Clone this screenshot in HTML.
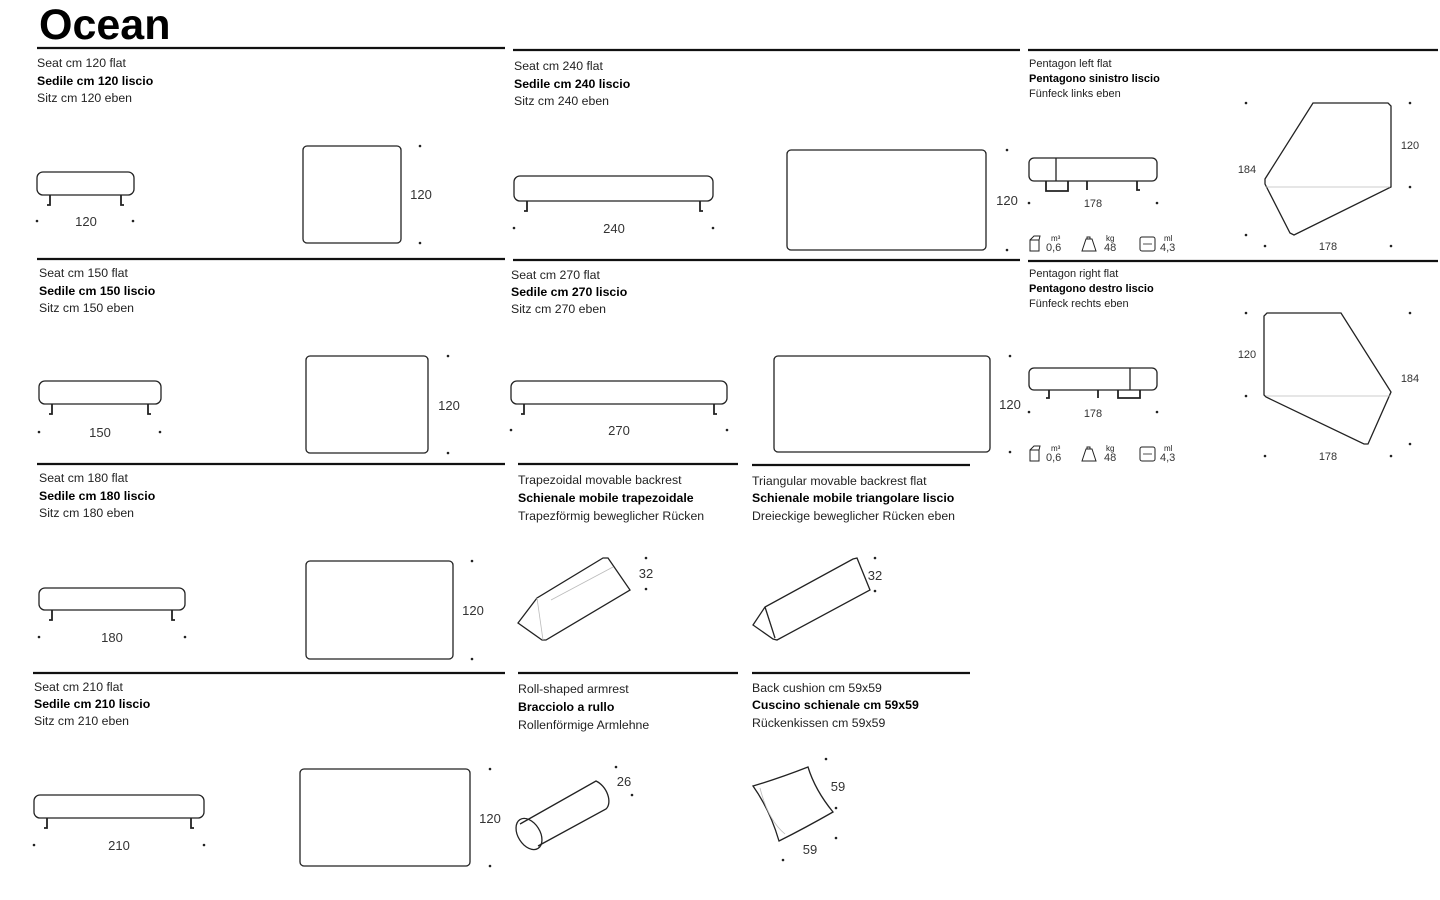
<!DOCTYPE html>
<html><head><meta charset="utf-8">
<style>
html,body{margin:0;padding:0;background:#fff;width:1440px;height:900px;overflow:hidden}
svg{display:block}
text{font-family:"Liberation Sans Narrow","Liberation Sans",sans-serif;fill:#222}
.t{font-size:12.3px}
.b{font-size:12.3px;font-weight:bold;fill:#000}
.s{font-size:11px}
.sb{font-size:11px;font-weight:bold;fill:#000}
.n{font-size:13px;fill:#333}
.ns{font-size:11px;fill:#333}
.ln{stroke:#111;stroke-width:2.2}
.o{fill:none;stroke:#222;stroke-width:1.3}
.g{fill:none;stroke:#bbb;stroke-width:0.8}
</style></head><body>
<svg id="s" width="1440" height="900" viewBox="0 0 1440 900" xmlns="http://www.w3.org/2000/svg">
<text x="39" y="39" style="font-family:'Liberation Sans',sans-serif;font-size:43px;font-weight:bold;fill:#000">Ocean</text>

<line class="ln" x1="37" y1="48" x2="505" y2="48"/>
<line class="ln" x1="513" y1="50" x2="1020" y2="50"/>
<line class="ln" x1="1028" y1="50" x2="1438" y2="50"/>
<line class="ln" x1="37" y1="259" x2="505" y2="259"/>
<line class="ln" x1="513" y1="260" x2="1020" y2="260"/>
<line class="ln" x1="1028" y1="261" x2="1438" y2="261"/>
<line class="ln" x1="37" y1="464" x2="505" y2="464"/>
<line class="ln" x1="518" y1="464" x2="738" y2="464"/>
<line class="ln" x1="752" y1="465" x2="970" y2="465"/>
<line class="ln" x1="33" y1="673" x2="505" y2="673"/>
<line class="ln" x1="518" y1="673" x2="738" y2="673"/>
<line class="ln" x1="752" y1="673" x2="970" y2="673"/>

<text class="t" x="37" y="67">Seat cm 120 flat</text>
<text class="b" x="37" y="85">Sedile cm 120 liscio</text>
<text class="t" x="37" y="102">Sitz cm 120 eben</text>
<text class="n" x="86" y="226" text-anchor="middle">120</text>
<text class="n" x="421" y="199" text-anchor="middle">120</text>

<text class="t" x="39" y="277">Seat cm 150 flat</text>
<text class="b" x="39" y="295">Sedile cm 150 liscio</text>
<text class="t" x="39" y="312">Sitz cm 150 eben</text>
<text class="n" x="100" y="437" text-anchor="middle">150</text>
<text class="n" x="449" y="410" text-anchor="middle">120</text>

<text class="t" x="39" y="482">Seat cm 180 flat</text>
<text class="b" x="39" y="500">Sedile cm 180 liscio</text>
<text class="t" x="39" y="517">Sitz cm 180 eben</text>
<text class="n" x="112" y="642" text-anchor="middle">180</text>
<text class="n" x="473" y="615" text-anchor="middle">120</text>

<text class="t" x="34" y="691">Seat cm 210 flat</text>
<text class="b" x="34" y="708">Sedile cm 210 liscio</text>
<text class="t" x="34" y="725">Sitz cm 210 eben</text>
<text class="n" x="119" y="850" text-anchor="middle">210</text>
<text class="n" x="490" y="823" text-anchor="middle">120</text>

<text class="t" x="514" y="70">Seat cm 240 flat</text>
<text class="b" x="514" y="88">Sedile cm 240 liscio</text>
<text class="t" x="514" y="105">Sitz cm 240 eben</text>
<text class="n" x="614" y="233" text-anchor="middle">240</text>
<text class="n" x="1007" y="205" text-anchor="middle">120</text>

<text class="t" x="511" y="279">Seat cm 270 flat</text>
<text class="b" x="511" y="296">Sedile cm 270 liscio</text>
<text class="t" x="511" y="313">Sitz cm 270 eben</text>
<text class="n" x="619" y="435" text-anchor="middle">270</text>
<text class="n" x="1010" y="409" text-anchor="middle">120</text>

<text class="t" x="518" y="484">Trapezoidal movable backrest</text>
<text class="b" x="518" y="502">Schienale mobile trapezoidale</text>
<text class="t" x="518" y="520">Trapezförmig beweglicher Rücken</text>
<text class="n" x="646" y="578" text-anchor="middle">32</text>

<text class="t" x="752" y="485">Triangular movable backrest flat</text>
<text class="b" x="752" y="502">Schienale mobile triangolare liscio</text>
<text class="t" x="752" y="520">Dreieckige beweglicher Rücken eben</text>
<text class="n" x="875" y="580" text-anchor="middle">32</text>

<text class="t" x="518" y="693">Roll-shaped armrest</text>
<text class="b" x="518" y="711">Bracciolo a rullo</text>
<text class="t" x="518" y="729">Rollenförmige Armlehne</text>
<text class="n" x="624" y="786" text-anchor="middle">26</text>

<text class="t" x="752" y="692">Back cushion cm 59x59</text>
<text class="b" x="752" y="709">Cuscino schienale cm 59x59</text>
<text class="t" x="752" y="727">Rückenkissen cm 59x59</text>
<text class="n" x="838" y="791" text-anchor="middle">59</text>
<text class="n" x="810" y="854" text-anchor="middle">59</text>

<text class="s" x="1029" y="67">Pentagon left flat</text>
<text class="sb" x="1029" y="82">Pentagono sinistro liscio</text>
<text class="s" x="1029" y="97">Fünfeck links eben</text>
<text class="ns" x="1093" y="207" text-anchor="middle">178</text>
<text class="ns" x="1247" y="173" text-anchor="middle">184</text>
<text class="ns" x="1410" y="149" text-anchor="middle">120</text>
<text class="ns" x="1328" y="250" text-anchor="middle">178</text>

<text class="s" x="1029" y="277">Pentagon right flat</text>
<text class="sb" x="1029" y="292">Pentagono destro liscio</text>
<text class="s" x="1029" y="307">Fünfeck rechts eben</text>
<text class="ns" x="1093" y="417" text-anchor="middle">178</text>
<text class="ns" x="1247" y="358" text-anchor="middle">120</text>
<text class="ns" x="1410" y="382" text-anchor="middle">184</text>
<text class="ns" x="1328" y="460" text-anchor="middle">178</text>

<g>
<text x="1046" y="251" class="ns">0,6</text><text x="1051" y="241" style="font-size:8px">m³</text>
<text x="1104" y="251" class="ns">48</text><text x="1106" y="241" style="font-size:8px">kg</text>
<text x="1160" y="251" class="ns">4,3</text><text x="1164" y="241" style="font-size:8px">ml</text>
<text x="1046" y="461" class="ns">0,6</text><text x="1051" y="451" style="font-size:8px">m³</text>
<text x="1104" y="461" class="ns">48</text><text x="1106" y="451" style="font-size:8px">kg</text>
<text x="1160" y="461" class="ns">4,3</text><text x="1164" y="451" style="font-size:8px">ml</text>
</g>

<g id="shapes"></g>

<polygon class="o" points="1313,103 1388,103 1391,106 1391,187 1294,235 1290,233 1265,184 1265,179"/>
<line class="g" x1="1266" y1="187" x2="1390" y2="187"/>
<polygon class="o" points="1267,313 1341,313 1391,392 1368,444 1364,444 1266,397 1264,395 1264,316"/>
<line class="g" x1="1266" y1="396" x2="1390" y2="396"/>

<path class="o" d="M518,623 L537,598 L603,558 L608,558 L630,590 L546,640 L542,640 Z"/>
<line class="g" x1="537" y1="598" x2="543" y2="640"/>
<line class="g" x1="551" y1="600" x2="613" y2="567"/>
<path class="o" d="M753,625 L765,607 L853,559 L857,558 L870,590 L777,640 L773,639 Z"/>
<line class="o" x1="765" y1="607" x2="775" y2="638"/>
<ellipse class="o" cx="529" cy="834" rx="11" ry="17" transform="rotate(-32 529 834)"/>
<path class="o" d="M520,824 L596,781 A11,17 -32 0 1 606,809 L538,846"/>
<path class="o" d="M753,786 Q780,778 808,767 Q815,790 833,812 Q805,828 779,841 Q770,810 753,786 Z"/>
<path class="g" d="M760,788 Q768,820 785,834"/>
</svg>
<script>
(function(){
var g=document.getElementById('shapes'),h='';
function sofa(x1,x2,y1,y2,l1,l2){
 h+='<rect class="o" x="'+x1+'" y="'+y1+'" width="'+(x2-x1)+'" height="'+(y2-y1)+'" rx="6"/>';
 h+='<path class="o" style="stroke-width:1.8" d="M'+l1+','+y2+' V'+(y2+10)+' H'+(l1-3)+' M'+l2+','+y2+' V'+(y2+10)+' H'+(l2+3)+'"/>';
}
function dot(x,y){h+='<circle cx="'+x+'" cy="'+y+'" r="1.3" fill="#222"/>';}
function tv(x1,y1,x2,y2,dx){h+='<rect class="o" x="'+x1+'" y="'+y1+'" width="'+(x2-x1)+'" height="'+(y2-y1)+'" rx="4"/>';dot(dx,y1);dot(dx,y2);}
sofa(37,134,172,195,50,121);dot(37,221);dot(133,221);tv(303,146,401,243,420);
sofa(39,161,381,404,52,148);dot(39,432);dot(160,432);tv(306,356,428,453,448);
sofa(39,185,588,610,52,172);dot(39,637);dot(185,637);tv(306,561,453,659,472);
sofa(34,204,795,818,47,191);dot(34,845);dot(204,845);tv(300,769,470,866,490);
sofa(514,713,176,201,527,700);dot(514,228);dot(713,228);tv(787,150,986,250,1007);
sofa(511,727,381,404,524,714);dot(511,430);dot(727,430);tv(774,356,990,452,1010);
h+='<rect class="o" x="1029" y="158" width="128" height="23" rx="5"/><line class="o" x1="1056" y1="158" x2="1056" y2="181"/>';
h+='<path class="o" style="stroke-width:1.8" d="M1046,181 V191 H1068 V181 M1087,181 V190 M1137,181 V190 H1140"/>';
dot(1029,203);dot(1157,203);
h+='<rect class="o" x="1029" y="368" width="128" height="22" rx="5"/><line class="o" x1="1130" y1="368" x2="1130" y2="390"/>';
h+='<path class="o" style="stroke-width:1.8" d="M1049,390 V398 H1046 M1098,390 V398 M1118,390 V398 H1140 V390"/>';
dot(1029,412);dot(1157,412);
[[1246,103],[1410,103],[1410,187],[1246,235],[1265,246],[1391,246],[1246,313],[1410,313],[1246,396],[1410,444],[1265,456],[1391,456],
 [646,558],[646,589],[875,558],[875,591],[616,767],[632,795],[826,759],[836,808],[836,838],[783,860]].forEach(function(p){dot(p[0],p[1])});
[235,445].forEach(function(y){
 h+='<path class="o" style="stroke-width:1" d="M1030,'+(y+5)+' h9 v11 h-9 z M1030,'+(y+5)+' l4,-4 h6 l-1,4"/>';
 h+='<path class="o" style="stroke-width:1" d="M1082,'+(y+16)+' l4,-12 h6 l4,12 z M1087,'+(y+4)+' v-2 h3 v2"/>';
 h+='<rect class="o" style="stroke-width:1" x="1140" y="'+(y+2)+'" width="15" height="14" rx="2"/><path class="o" style="stroke-width:0.8" d="M1143,'+(y+9)+' h9"/>';
});
g.innerHTML=h;
})();
</script>
</body></html>
